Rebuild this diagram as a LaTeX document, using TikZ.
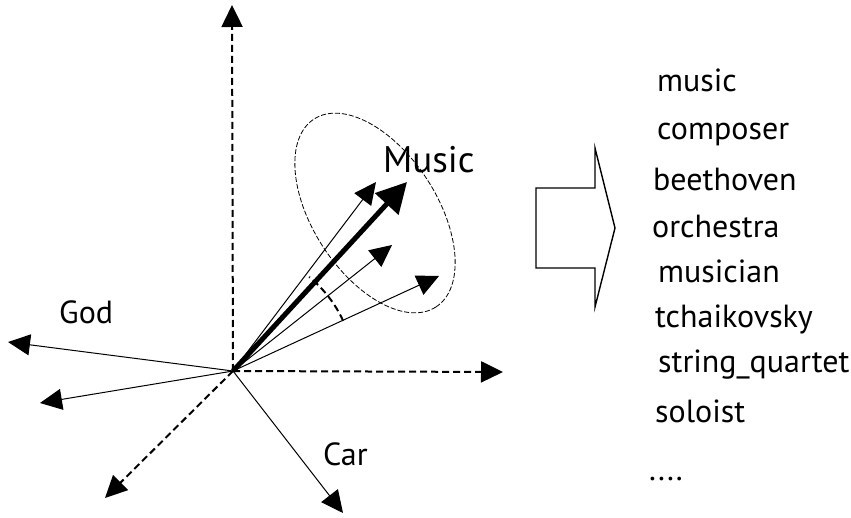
\documentclass[tikz,border=0pt]{standalone}
\usepackage{fontspec}
\setmainfont{PT Sans}
\usetikzlibrary{arrows.meta}
\begin{document}
\begin{tikzpicture}[x=1pt,y=1pt,
  tri/.style={-{Triangle[length=22pt,width=21pt]}},
  vec/.style={tri, line width=1pt},
  axis/.style={tri, line width=2pt, dash pattern=on 7pt off 4pt},
  word/.style={anchor=base west, inner sep=0pt, font=\fontsize{32}{38}\selectfont},
  big/.style={anchor=base west, inner sep=0pt, font=\fontsize{37}{44}\selectfont},
]
\useasboundingbox (0,0) rectangle (851,-518);
\coordinate (O) at (233,-371);
% axes
\coordinate (ax1) at (232,-5);
\coordinate (ax2) at (503,-372);
\coordinate (ax3) at (105,-498);
\draw[axis] (O) -- (ax1);
\draw[axis] (O) -- (ax2);
\draw[axis] (O) -- (ax3);
% other vectors
\coordinate (g1) at (8,-342);
\coordinate (g2) at (40,-403);
\coordinate (c1) at (343,-513);
\draw[vec] (O) -- (g1);
\draw[vec] (O) -- (g2);
\draw[vec] (O) -- (c1);
% music cluster
\coordinate (m1) at (376,-182);
\coordinate (m2) at (392,-245);
\coordinate (m3) at (439,-276);
\coordinate (mt) at (407,-182);
\draw[vec] (O) -- (m1);
\draw[vec] (O) -- (m2);
\draw[vec] (O) -- (m3);
\draw[line width=5pt, -{Triangle[length=30pt,width=31pt]}] (O) -- (mt);
% angle arc
\draw[line width=2pt, dash pattern=on 7pt off 4pt] (O) ++(24.5:121) arc[start angle=24.5, end angle=51, radius=121];
% ellipse
\coordinate (ec) at (375,-213);
\draw[line width=0.8pt, dash pattern=on 5pt off 2pt, rotate around={-57:(ec)}] (ec) ellipse [x radius=112, y radius=62];
% labels
\node[big] (music) at (383,-173) {Music};
\node[word] (god) at (59,-324) {God};
\node[word] (car) at (323,-465) {Car};
% block arrow
\draw[line width=1.4pt, line join=miter] (536,-188) -- (595,-188) -- (595,-148) -- (615,-228) -- (595,-307) -- (595,-268) -- (536,-268) -- cycle;
% word list
\node[word] (w1) at (657,-92) {music};
\node[word] (w2) at (657,-140) {composer};
\node[word] (w3) at (653,-191) {beethoven};
\node[word] (w4) at (652,-238) {orchestra};
\node[word] (w5) at (658,-283) {musician};
\node[word] (w6) at (655,-328) {tchaikovsky};
\node[word] (w7) at (658,-373) {string\_quartet};
\node[word] (w8) at (655,-422) {soloist};
\node[word] (w9) at (649,-480) {....};
\end{tikzpicture}
\end{document}
